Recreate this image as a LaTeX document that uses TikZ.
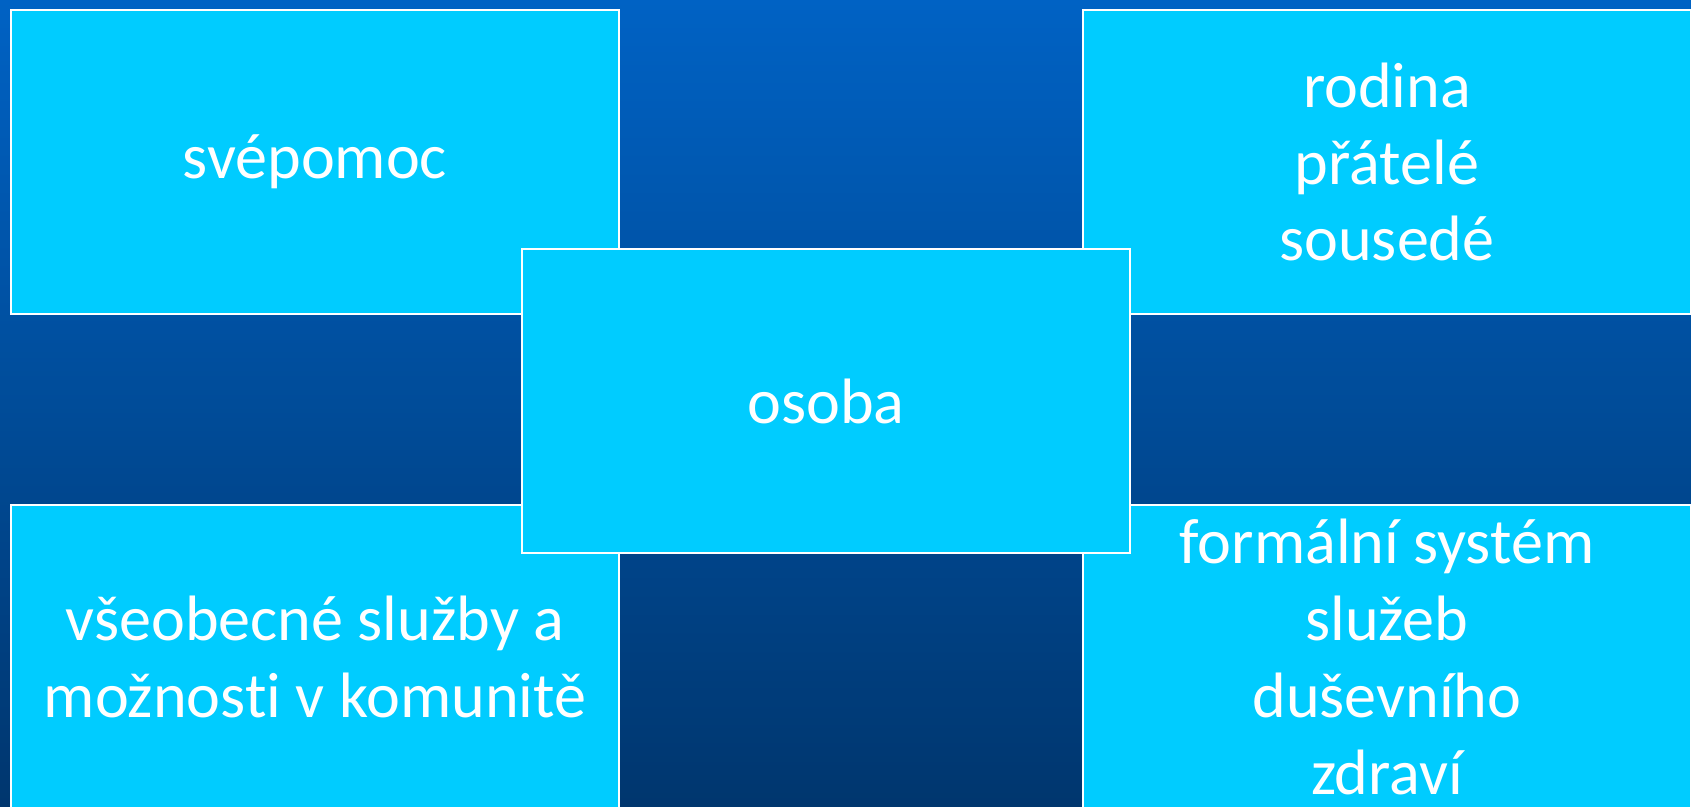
\documentclass[tikz,border=0pt]{standalone}
\usepackage{fontspec}
\setmainfont{Carlito}[Ligatures=NoCommon]
\definecolor{boxcyan}{RGB}{0,204,255}
\definecolor{bgtop}{RGB}{0,98,196}
\definecolor{bgbottom}{RGB}{0,54,110}

\begin{document}
\begin{tikzpicture}[x=0.02cm, y=-0.02cm,
  field/.style={draw=white, line width=1.6pt, fill=boxcyan, text=white,
    inner sep=0pt, minimum width=12.16cm, minimum height=6.08cm, align=center,
    font=\fontsize{36.5}{43.8}\selectfont}]
  \useasboundingbox (0,0) rectangle (1691,807);
  \clip (0,0) rectangle (1691,807);
  \fill[top color=bgtop, bottom color=bgbottom] (0,0) rectangle (1691,807);
  \node[field] (svepomoc) at (315,162) {svépomoc};
  \node[field] (rodina) at (1387,162) {rodina\\přátelé\\sousedé};
  \node[field] (komunita) at (315,657) {všeobecné služby a\\možnosti v komunitě};
  \node[field] (sluzby) at (1387,657) {formální systém\\služeb\\duševního\\zdraví};
  \node[field] (osoba) at (826,401) {osoba};
\end{tikzpicture}
\end{document}
